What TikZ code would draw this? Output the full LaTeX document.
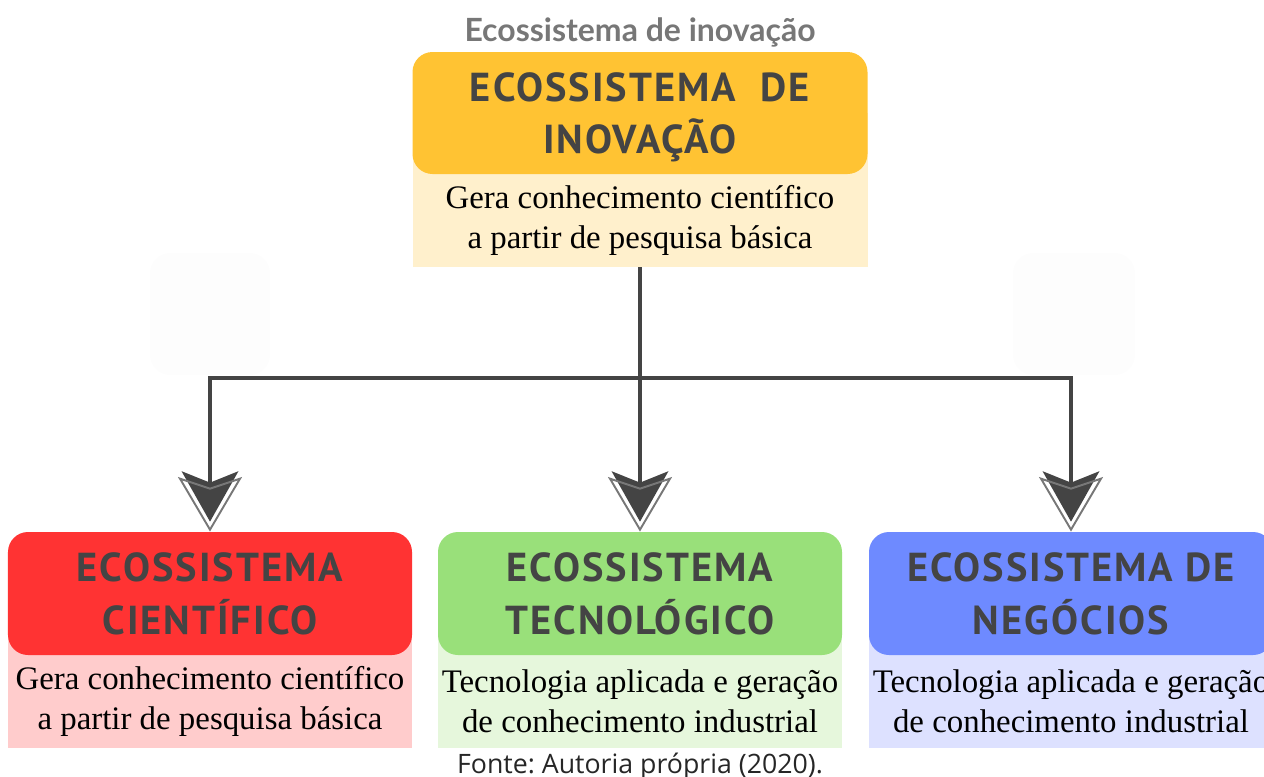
\documentclass[tikz,border=0pt]{standalone}
\usepackage{fontspec}
\setmainfont{Liberation Serif}
\newfontfamily\headfont[LetterSpace=5]{PT Sans}
\newfontfamily\titlefont{Lato}
\newfontfamily\capfont{Open Sans}
\usetikzlibrary{positioning,calc}
\frenchspacing

\definecolor{headtxt}{HTML}{444444}
\definecolor{line}{HTML}{444444}
\definecolor{outl}{HTML}{777777}
\definecolor{inovhd}{HTML}{FFC333}
\definecolor{inovbd}{HTML}{FFF0CC}
\definecolor{cienhd}{HTML}{FF3333}
\definecolor{cienbd}{HTML}{FFCCCC}
\definecolor{techd}{HTML}{99E07A}
\definecolor{tecbd}{HTML}{E6F7DC}
\definecolor{neghd}{HTML}{6E8AFF}
\definecolor{negbd}{HTML}{DDE1FF}

\tikzset{
  head/.style={rectangle,rounded corners=0.4cm,minimum width=8.08cm,
    minimum height=2.46cm,align=center,text=headtxt,text depth=0pt,
    font=\headfont\bfseries\fontsize{23}{30}\selectfont},
  body/.style={rectangle,inner xsep=0pt,minimum width=8.08cm,minimum height=1.86cm,
    align=center,font=\fontsize{18.7}{22.7}\selectfont},
  conn/.style={draw=line,line width=2.3pt,shorten >=0.5cm},
  arrowhd/.pic={
    \fill[line] (-0.57,1.21) -- (0,0.98) -- (0.57,1.21) -- (0,0.2) -- cycle;
    \draw[outl,line width=1.1pt] (-0.6,1.06) -- (0,0.86) -- (0.6,1.06) -- (0,0.04) -- cycle;
  }
}

\begin{document}
\begin{tikzpicture}
  \useasboundingbox (0,0) rectangle (25.28,-15.52);

  % faint squares
  \fill[black!0.8,rounded corners=0.4cm] (3.0,-5.06) rectangle (5.4,-7.5);
  \fill[black!0.8,rounded corners=0.4cm] (20.26,-5.06) rectangle (22.7,-7.5);

  % title
  \node[text=outl,font=\titlefont\bfseries\fontsize{18.2}{22}\selectfont] (title) at (12.8,-0.64) {Ecossistema de inovação};

  % top box
  \node[body,fill=inovbd,minimum width=9.1cm] (inovb) at (12.8,-4.41)
    {Gera conhecimento científico\\a partir de pesquisa básica};
  \fill[inovbd] (8.26,-2.26) rectangle (inovb.north east);
  \node[head,fill=inovhd,minimum width=9.1cm,minimum height=2.44cm] (inov) at (12.8,-2.26)
    {ECOSSISTEMA~ DE\\INOVAÇÃO};

  % bottom boxes
  \foreach \n/\x/\hc/\bc/\htxt/\btxt in {
    cien/4.2/cienhd/cienbd/{ECOSSISTEMA\\CIENTÍFICO}/{Gera conhecimento científico\\a partir de pesquisa básica},
    tec/12.8/techd/tecbd/{ECOSSISTEMA\\TECNOLÓGICO}/{Tecnologia aplicada e geração\\de conhecimento industrial},
    neg/21.42/neghd/negbd/{ECOSSISTEMA DE\\NEGÓCIOS}/{Tecnologia aplicada e geração\\de conhecimento industrial}} {
    \node[body,fill=\bc] (\n b) at (\x,-14.03) {\btxt};
    \fill[\bc] ($(\n b.north west)+(0,1.23)$) rectangle (\n b.north east);
    \node[head,fill=\hc] (\n) at (\x,-11.87) {\htxt};
  }

  % connectors
  \draw[conn] (inovb.south) -- ++(0,-2.22) coordinate (fork) -| (cien.north);
  \draw[conn] (fork) -- (tec.north);
  \draw[conn] (fork) -| (neg.north);
  \pic at (cien.north) {arrowhd};
  \pic at (tec.north) {arrowhd};
  \pic at (neg.north) {arrowhd};

  % caption
  \node[text=black!85,font=\capfont\fontsize{15.2}{18}\selectfont] (fonte) at (12.8,-15.32) {Fonte: Autoria própria (2020).};
\end{tikzpicture}
\end{document}
